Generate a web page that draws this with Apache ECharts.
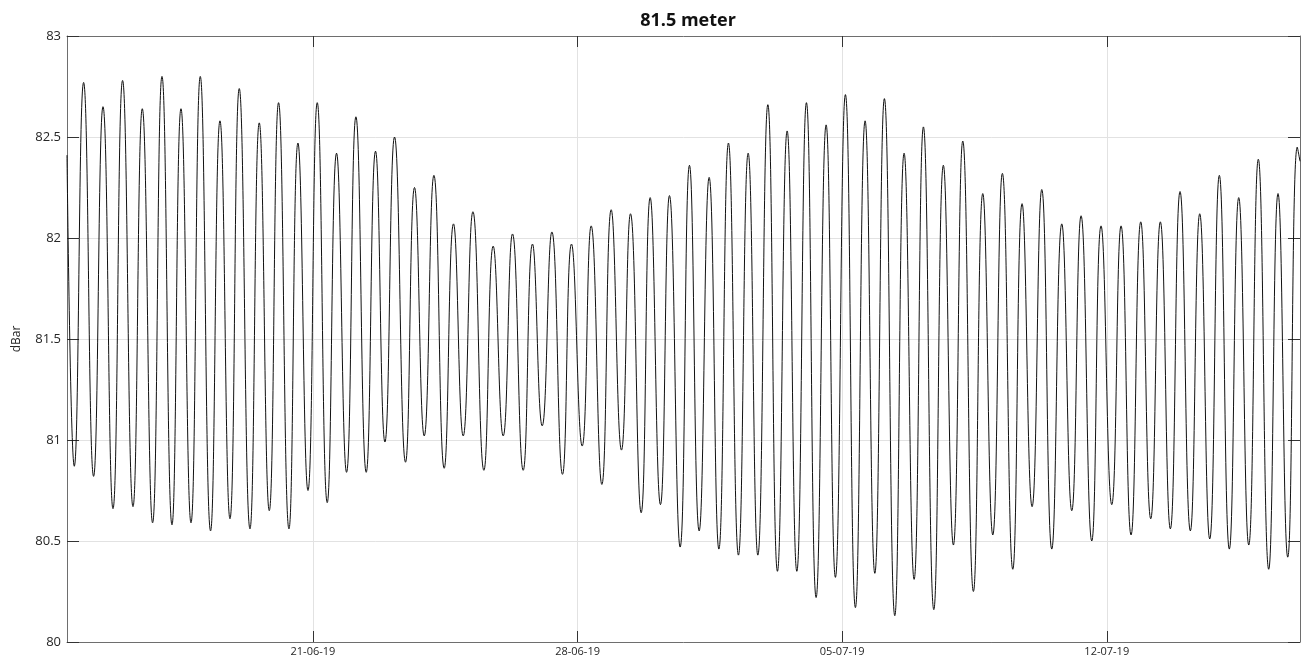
<!DOCTYPE html>
<html>
<head>
<meta charset="utf-8">
<script src="https://cdn.jsdelivr.net/npm/echarts@6/dist/echarts.min.js"></script>
<style>html,body{margin:0;padding:0;background:#fff;}#chart{width:1301px;height:664px;}</style>
</head>
<body>
<div id="chart"></div>
<script>
// ---- data (local times, dBar) ----
const chartTitle = '81.5 meter';
const yAxisName = 'dBar';
const startTime = '2019-06-14 11:51';
const startValue = 82.41;
const endTime = '2019-07-17 02:41';
const endValue = 82.38;

const troughTimes = ['2019-06-14 16:29','2019-06-15 04:44','2019-06-15 17:03','2019-06-16 05:45','2019-06-16 18:11','2019-06-17 06:30','2019-06-17 18:34','2019-06-18 07:00','2019-06-18 19:19','2019-06-19 08:01','2019-06-19 20:16','2019-06-20 08:46','2019-06-20 20:50','2019-06-21 09:05','2019-06-21 21:20','2019-06-22 09:50','2019-06-22 21:42','2019-06-23 10:47','2019-06-23 22:39','2019-06-24 11:20','2019-06-24 23:24','2019-06-25 12:32','2019-06-26 00:47','2019-06-26 13:29','2019-06-27 01:33','2019-06-27 14:26','2019-06-28 02:56','2019-06-28 15:26','2019-06-29 03:53','2019-06-29 16:23','2019-06-30 04:38','2019-06-30 17:08','2019-07-01 05:12','2019-07-01 17:43','2019-07-02 06:09','2019-07-02 18:28','2019-07-03 06:55','2019-07-03 19:13','2019-07-04 07:28','2019-07-04 19:43','2019-07-05 08:25','2019-07-05 20:44','2019-07-06 09:25','2019-07-06 21:41','2019-07-07 10:11','2019-07-07 22:37','2019-07-08 11:20','2019-07-08 23:38','2019-07-09 12:20','2019-07-10 00:35','2019-07-10 13:05','2019-07-11 01:47','2019-07-11 14:28','2019-07-12 03:10','2019-07-12 15:25','2019-07-13 03:55','2019-07-13 16:22','2019-07-14 05:04','2019-07-14 17:22','2019-07-15 05:49','2019-07-15 18:08','2019-07-16 06:49','2019-07-16 18:53'];
const troughValues = [80.87,80.82,80.66,80.67,80.59,80.58,80.59,80.55,80.61,80.56,80.65,80.56,80.75,80.69,80.84,80.84,80.99,80.89,81.02,80.86,81.02,80.85,81.02,80.85,81.07,80.83,80.97,80.78,80.95,80.64,80.68,80.47,80.55,80.46,80.43,80.43,80.35,80.35,80.22,80.32,80.17,80.34,80.13,80.31,80.16,80.48,80.25,80.53,80.36,80.67,80.46,80.65,80.50,80.68,80.53,80.61,80.56,80.55,80.51,80.46,80.48,80.36,80.42];

const peakTimes = ['2019-06-14 22:23','2019-06-15 10:42','2019-06-15 23:08','2019-06-16 11:39','2019-06-17 00:09','2019-06-17 12:13','2019-06-18 00:28','2019-06-18 12:58','2019-06-19 01:13','2019-06-19 13:55','2019-06-20 02:10','2019-06-20 14:29','2019-06-21 02:44','2019-06-21 14:59','2019-06-22 03:17','2019-06-22 15:44','2019-06-23 03:48','2019-06-23 16:29','2019-06-24 04:48','2019-06-24 17:14','2019-06-25 05:34','2019-06-25 18:26','2019-06-26 06:42','2019-06-26 19:23','2019-06-27 07:42','2019-06-27 20:09','2019-06-28 08:39','2019-06-28 21:21','2019-06-29 09:36','2019-06-29 22:06','2019-06-30 10:21','2019-06-30 23:03','2019-07-01 11:33','2019-07-01 23:48','2019-07-02 12:19','2019-07-03 00:49','2019-07-03 13:04','2019-07-04 01:19','2019-07-04 13:49','2019-07-05 02:04','2019-07-05 14:34','2019-07-06 02:49','2019-07-06 15:20','2019-07-07 03:35','2019-07-07 16:16','2019-07-08 04:35','2019-07-08 17:17','2019-07-09 05:43','2019-07-09 18:14','2019-07-10 06:44','2019-07-10 19:26','2019-07-11 07:41','2019-07-11 20:22','2019-07-12 09:04','2019-07-12 21:34','2019-07-13 10:01','2019-07-13 22:31','2019-07-14 11:01','2019-07-14 23:28','2019-07-15 11:47','2019-07-16 00:13','2019-07-16 12:44','2019-07-17 00:58'];
const peakValues = [82.77,82.65,82.78,82.64,82.80,82.64,82.80,82.58,82.74,82.57,82.67,82.47,82.67,82.42,82.60,82.43,82.50,82.25,82.31,82.07,82.13,81.96,82.02,81.97,82.03,81.97,82.06,82.14,82.12,82.20,82.21,82.36,82.30,82.47,82.42,82.66,82.53,82.67,82.56,82.71,82.58,82.69,82.42,82.55,82.36,82.48,82.22,82.32,82.17,82.24,82.07,82.11,82.06,82.06,82.08,82.08,82.23,82.12,82.31,82.20,82.39,82.22,82.45];

const tickDates = ['2019-06-21 00:00','2019-06-28 00:00','2019-07-05 00:00','2019-07-12 00:00'];
const yMin = 80, yMax = 83, yStep = 0.5;

// ---- helpers ----
function parseT(s) {
  const m = s.match(/(\d+)-(\d+)-(\d+) (\d+):(\d+)/);
  return Date.UTC(+m[1], +m[2] - 1, +m[3], +m[4], +m[5]);
}
function fmt(v) {
  const d = new Date(v);
  const p = n => (n < 10 ? '0' : '') + n;
  return p(d.getUTCDate()) + '-' + p(d.getUTCMonth() + 1) + '-' + p(d.getUTCFullYear() % 100);
}

const points = [[parseT(startTime), startValue]];
troughTimes.forEach((t, i) => points.push([parseT(t), troughValues[i]]));
peakTimes.forEach((t, i) => points.push([parseT(t), peakValues[i]]));
points.push([parseT(endTime), endValue]);
points.sort((a, b) => a[0] - b[0]);

const xMin = parseT(startTime), xMax = parseT(endTime);
const ticks = tickDates.map(parseT);

const FONT = '"Open Sans", "DejaVu Sans", sans-serif';
const axisCol = '#6e6e6e';
const tickCol = '#333';
const gridCol = '#e2e2e2';

const chart = echarts.init(document.getElementById('chart'), null, {renderer: 'canvas'});
chart.setOption({
  animation: false,
  backgroundColor: '#ffffff',
  title: {
    text: chartTitle,
    left: 688, top: 12, padding: 0,
    textAlign: 'center',
    textStyle: {fontFamily: FONT, fontSize: 18, fontWeight: 'bold', color: '#111'}
  },
  grid: {left: 67, right: 1, top: 36, bottom: 22, containLabel: false},
  xAxis: [{
    type: 'value', min: xMin, max: xMax, position: 'bottom',
    axisLine: {show: true, onZero: false, lineStyle: {color: axisCol, width: 1}},
    axisTick: {show: true, inside: true, length: 11, customValues: ticks, lineStyle: {color: tickCol, width: 1}},
    axisLabel: {show: true, customValues: ticks, formatter: fmt, margin: 4, fontFamily: FONT, fontSize: 11, color: '#262626'},
    splitLine: {show: true, lineStyle: {color: gridCol, width: 1}}
  }, {
    type: 'value', min: xMin, max: xMax, position: 'top',
    axisLine: {show: true, onZero: false, lineStyle: {color: axisCol, width: 1}},
    axisTick: {show: true, inside: true, length: 11, customValues: ticks, lineStyle: {color: tickCol, width: 1}},
    axisLabel: {show: false},
    splitLine: {show: false}
  }],
  yAxis: [{
    type: 'value', min: yMin, max: yMax, interval: yStep, position: 'left',
    name: yAxisName, nameLocation: 'middle', nameGap: 44, nameRotate: 90,
    nameTextStyle: {fontFamily: FONT, fontSize: 12, color: '#262626'},
    axisLine: {show: true, onZero: false, lineStyle: {color: axisCol, width: 1}},
    axisTick: {show: true, inside: true, length: 12, lineStyle: {color: tickCol, width: 1}},
    axisLabel: {show: true, margin: 6, fontFamily: FONT, fontSize: 13, color: '#262626'},
    splitLine: {show: true, lineStyle: {color: gridCol, width: 1}}
  }, {
    type: 'value', min: yMin, max: yMax, interval: yStep, position: 'right',
    axisLine: {show: true, onZero: false, lineStyle: {color: axisCol, width: 1}},
    axisTick: {show: true, inside: true, length: 12, lineStyle: {color: tickCol, width: 1}},
    axisLabel: {show: false},
    splitLine: {show: false}
  }],
  series: [{
    type: 'line',
    data: points,
    xAxisIndex: 0, yAxisIndex: 0,
    smooth: 0.5,
    showSymbol: false,
    clip: true,
    lineStyle: {color: '#111111', width: 1}
  }]
});
</script>
</body>
</html>
